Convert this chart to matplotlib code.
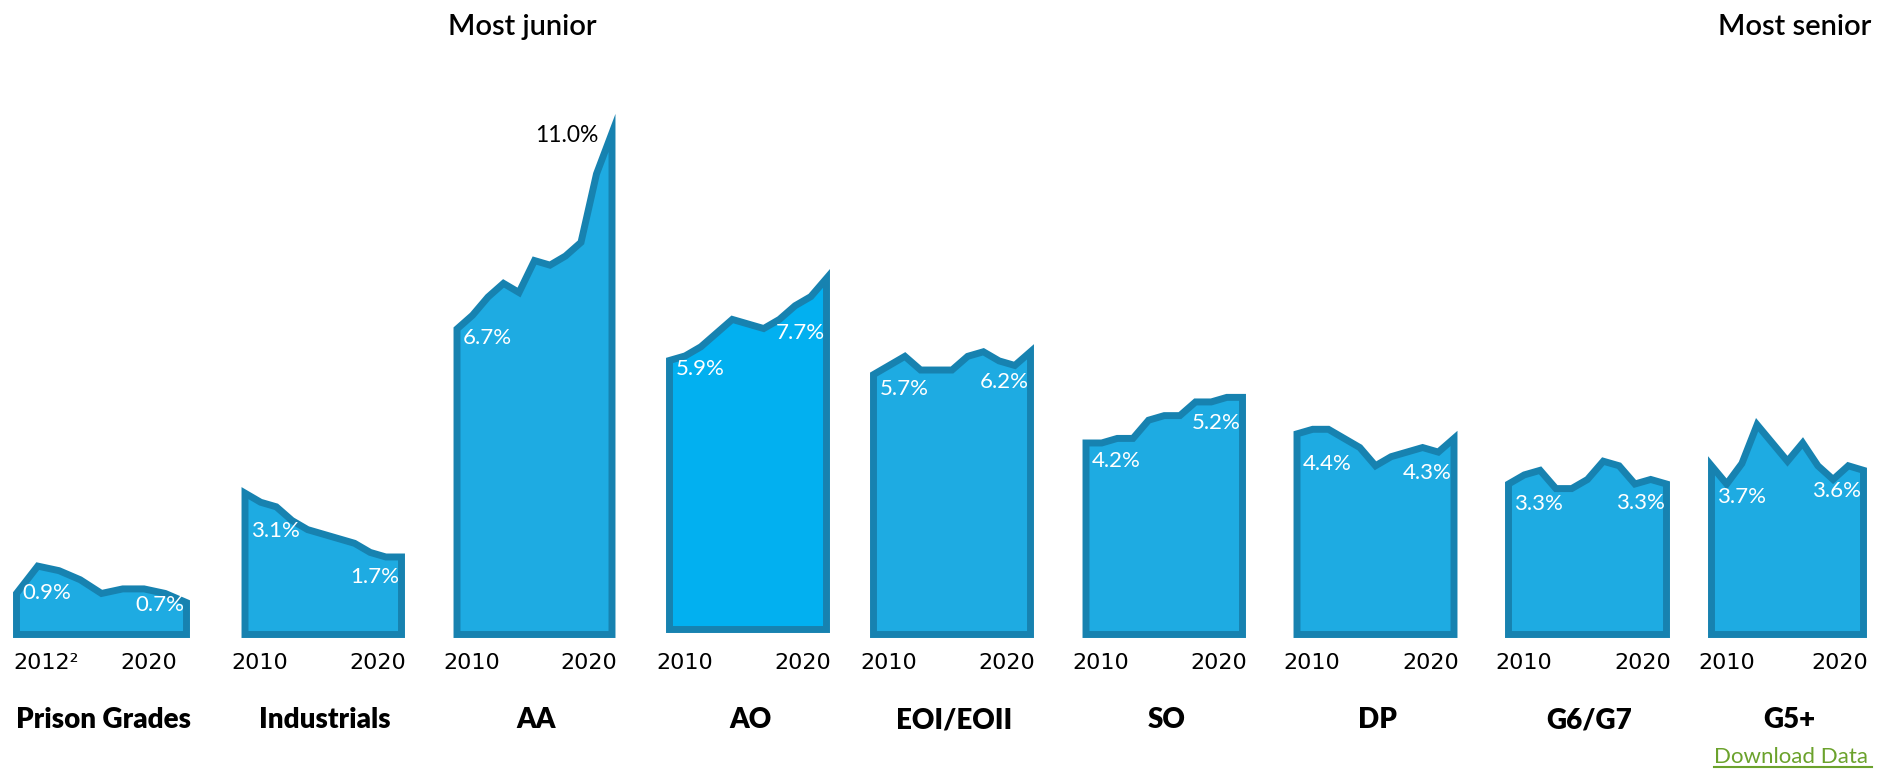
import matplotlib
matplotlib.use("Agg")
import matplotlib.pyplot as plt
from matplotlib.lines import Line2D

# share of staff (%), by grade, annual
groups = ["Prison Grades", "Industrials", "AA", "AO", "EOI/EOII", "SO", "DP", "G6/G7", "G5+"]
first_years = [2012, 2010, 2010, 2010, 2010, 2010, 2010, 2010, 2010]
last_year = 2020

prison = [0.9, 1.5, 1.4, 1.2, 0.9, 1.0, 1.0, 0.9, 0.7]
industrials = [3.1, 2.9, 2.8, 2.5, 2.3, 2.2, 2.1, 2.0, 1.8, 1.7, 1.7]
aa = [6.7, 7.0, 7.4, 7.7, 7.5, 8.2, 8.1, 8.3, 8.6, 10.1, 11.0]
ao = [5.9, 6.0, 6.2, 6.5, 6.8, 6.7, 6.6, 6.8, 7.1, 7.3, 7.7]
eo = [5.7, 5.9, 6.1, 5.8, 5.8, 5.8, 6.1, 6.2, 6.0, 5.9, 6.2]
so = [4.2, 4.2, 4.3, 4.3, 4.7, 4.8, 4.8, 5.1, 5.1, 5.2, 5.2]
dp = [4.4, 4.5, 4.5, 4.3, 4.1, 3.7, 3.9, 4.0, 4.1, 4.0, 4.3]
g6g7 = [3.3, 3.5, 3.6, 3.2, 3.2, 3.4, 3.8, 3.7, 3.3, 3.4, 3.3]
g5 = [3.7, 3.3, 3.75, 4.6, 4.2, 3.8, 4.2, 3.7, 3.4, 3.7, 3.6]
series = [prison, industrials, aa, ao, eo, so, dp, g6g7, g5]

first_labels = ["2012\u00b2", "2010", "2010", "2010", "2010", "2010", "2010", "2010", "2010"]

# layout (pixels in the 1878x769 figure)
W, H = 1878, 769
BASE = 634.5          # baseline, from top
PX_PER_PCT = 45.6
YMAX = 12
panel_x = [(16.5, 186.5), (245, 401.5), (457, 612), (669.5, 826.5), (873.5, 1030.5),
           (1086, 1242.5), (1297, 1454), (1508.5, 1666.5), (1711.5, 1863.5)]
panel_lift = [0, 0, 0, 5, 0, 0, 0, 0, 0]
# where the % labels sit (in % units)
start_lab_y = [0.91, 2.28, 6.51, 5.72, 5.38, 3.80, 3.75, 2.86, 3.01]
end_lab_y = [0.65, 1.26, 10.95, 6.51, 5.53, 4.64, 3.54, 2.88, 3.15]

fill_col = "#1EABE2"
ao_col = "#02B0F0"
edge_col = "#1782B0"
lab_font = ["Lato", "DejaVu Sans"]
year_font = ["DejaVu Sans"]

fig = plt.figure(figsize=(W / 100, H / 100), dpi=100)

for i, (name, vals) in enumerate(zip(groups, series)):
    x0, x1 = panel_x[i]
    base = BASE - panel_lift[i]
    ax = fig.add_axes([x0 / W, (H - base) / H, (x1 - x0) / W, YMAX * PX_PER_PCT / H])
    years = list(range(first_years[i], first_years[i] + len(vals)))
    xs = [years[0]] + years + [years[-1], years[0]]
    ys = [0] + vals + [0, 0]
    ax.fill(xs, ys, facecolor=ao_col if name == "AO" else fill_col,
            edgecolor=edge_col, linewidth=5, joinstyle="miter", clip_on=False)
    ax.set_xlim(years[0], years[-1])
    ax.set_ylim(0, YMAX)
    ax.axis("off")

    # value labels
    ax.annotate(f"{vals[0]:.1f}%", xy=(years[0], start_lab_y[i]), xytext=(6, 0),
                textcoords="offset pixels", ha="left", va="center",
                color="white", fontsize=16, family=lab_font)
    if name == "AA":
        ax.annotate(f"{vals[-1]:.1f}%", xy=(years[-1], end_lab_y[i]), xytext=(-14, 0),
                    textcoords="offset pixels", ha="right", va="center",
                    color="black", fontsize=16.5, family=lab_font)
    else:
        ax.annotate(f"{vals[-1]:.1f}%", xy=(years[-1], end_lab_y[i]), xytext=(-2, 0),
                    textcoords="offset pixels", ha="right", va="center",
                    color="white", fontsize=16, family=lab_font)

    # year labels
    ydrop = -(663 - base)
    if i == 0:
        ax.annotate(first_labels[i], xy=(years[0], 0), xytext=(-3.5, ydrop),
                    textcoords="offset pixels", ha="left", va="center",
                    fontsize=16, family=year_font)
    else:
        ax.annotate(first_labels[i], xy=(years[0], 0), xytext=(15, ydrop),
                    textcoords="offset pixels", ha="center", va="center",
                    fontsize=16, family=year_font)
    ax.annotate(str(last_year), xy=(years[-1], 0),
                xytext=(-9 if i == 0 else 5, ydrop),
                textcoords="offset pixels", ha="right", va="center",
                fontsize=16, family=year_font)

    # group name
    ax.annotate(name, xy=(0.5, 0), xycoords="axes fraction",
                xytext=(2, -(720 - base)), textcoords="offset pixels",
                ha="center", va="center", fontsize=20, fontweight="heavy",
                family=lab_font)

fig.text(522 / W, 1 - 35 / H, "Most junior", ha="center", va="baseline",
         fontsize=21, fontweight="semibold", family=lab_font)
fig.text(1795 / W, 1 - 35 / H, "Most senior", ha="center", va="baseline",
         fontsize=21, fontweight="semibold", family=lab_font)

fig.text(1714 / W, 1 - 757 / H, "Download Data", ha="left", va="center",
         fontsize=16, color="#6BA22C", family=lab_font)
fig.add_artist(Line2D([1714 / W, 1872 / W], [1 - 767 / H, 1 - 767 / H],
                      transform=fig.transFigure, color="#6BA22C", linewidth=1.5))

fig.savefig("out.png", dpi=100, facecolor="white")
